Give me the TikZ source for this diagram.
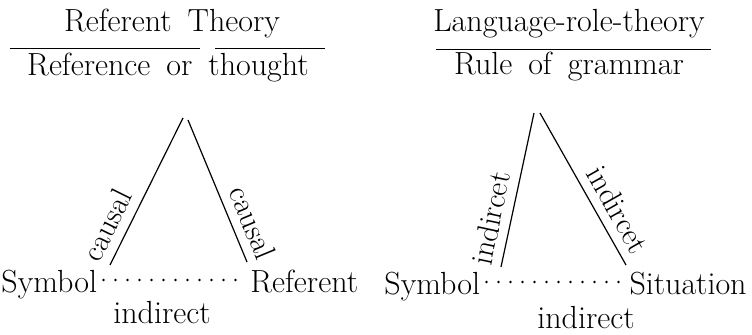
\documentclass[tikz,border=0pt]{standalone}

\newcommand\diagfont{\fontsize{16}{19}\selectfont\spaceskip=0.5em\relax}
\newcommand\slopefont{\fontsize{15.5}{18}\selectfont}

\begin{document}
\begin{tikzpicture}[x=0.5pt, y=-0.5pt,
  txt/.style={font=\diagfont, inner sep=0pt},
  lbl/.style={font=\slopefont, sloped, above, inner sep=4.5pt},
  edge/.style={line width=0.6pt},
  dotline/.style={line width=1.4pt, line cap=round, dash pattern=on 0pt off 6pt}]

\useasboundingbox (0,0) rectangle (752,335);

% Referent theory (left)
\node[txt, anchor=base] (title1) at (172,32) {Referent Theory};
\draw[line width=0.5pt] (10,49) -- (200,49);
\draw[line width=0.5pt] (215,49) -- (325,49);
\node[txt, anchor=base] (think1) at (168,76) {Reference or thought};

\coordinate (apexl1) at (183,118);
\coordinate (apexr1) at (188,120);
\coordinate (foots1) at (110,265);
\coordinate (footr1) at (247,262);

\node[txt, anchor=base west] (sym1) at (1,293) {Symbol};
\node[txt, anchor=base west] (ref1) at (250,293) {Referent};
\node[txt, anchor=base] (ind1) at (162,324) {indirect};

\draw[edge] (foots1) -- node[lbl, pos=0.21] {causal} (apexl1);
\draw[edge] (apexr1) -- node[lbl, pos=0.78] {causal} (footr1);
\draw[dotline] ([xshift=3pt,yshift=6.5pt]sym1.base east) -- ([xshift=-2pt,yshift=6.5pt]ref1.base west);

% Language-role-theory (right)
\node[txt, anchor=base] (title2) at (569,32) {Language-role-theory};
\draw[line width=0.5pt] (436,50) -- (711,50);
\node[txt, anchor=base] (rule2) at (569,75) {Rule of grammar};

\coordinate (apexl2) at (534,113);
\coordinate (apexr2) at (540,113);
\coordinate (foots2) at (501,267);
\coordinate (footr2) at (626,265);

\node[txt, anchor=base west] (sym2) at (384,295) {Symbol};
\node[txt, anchor=base east] (sit2) at (747,295) {Situation};
\node[txt, anchor=base] (ind2) at (586,329) {indirect};

\draw[edge] (foots2) -- node[lbl, pos=0.29] {indircet} (apexl2);
\draw[edge] (apexr2) -- node[lbl, pos=0.70] {indircet} (footr2);
\draw[dotline] ([xshift=3pt,yshift=6.5pt]sym2.base east) -- ([xshift=-2pt,yshift=6.5pt]sit2.base west);

\end{tikzpicture}
\end{document}
